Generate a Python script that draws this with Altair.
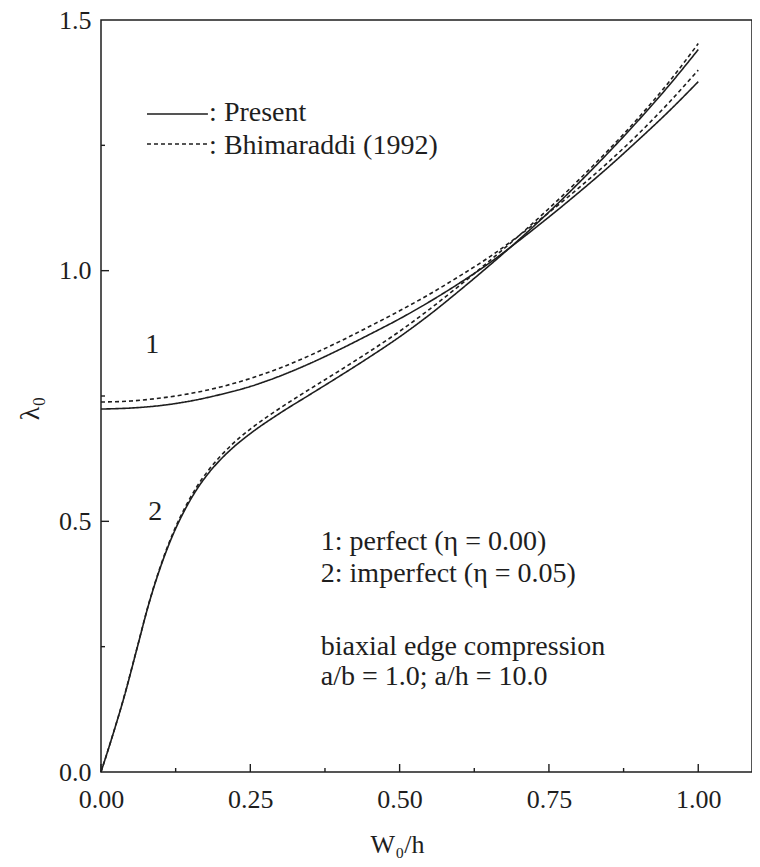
import altair as alt
import pandas as pd

# ---- data ----
w1 = [0.0, 0.05, 0.10, 0.15, 0.20, 0.25, 0.30, 0.35, 0.40, 0.45, 0.50,
      0.55, 0.60, 0.65, 0.70, 0.75, 0.80, 0.85, 0.90, 0.95, 1.00]
lam1_present = [0.724, 0.726, 0.731, 0.740, 0.753, 0.769, 0.790, 0.815, 0.843, 0.873, 0.904,
                0.938, 0.975, 1.015, 1.060, 1.107, 1.156, 1.207, 1.261, 1.317, 1.377]
lam1_bhim = [0.738, 0.740, 0.746, 0.755, 0.768, 0.785, 0.806, 0.831, 0.859, 0.889, 0.920,
             0.953, 0.989, 1.027, 1.070, 1.116, 1.165, 1.217, 1.273, 1.334, 1.400]

w2 = [0.0, 0.02, 0.04, 0.06, 0.08, 0.10, 0.12, 0.14, 0.16, 0.18, 0.20, 0.22,
      0.25, 0.30, 0.35, 0.40, 0.45, 0.50, 0.55, 0.60, 0.65, 0.70, 0.75,
      0.80, 0.85, 0.90, 0.95, 1.00]
lam2_present = [0.0, 0.075, 0.155, 0.245, 0.335, 0.410, 0.472, 0.522, 0.563, 0.596, 0.623, 0.646,
                0.675, 0.716, 0.753, 0.790, 0.828, 0.868, 0.912, 0.960, 1.010, 1.062, 1.117,
                1.175, 1.236, 1.300, 1.368, 1.441]
lam2_bhim = [0.0, 0.075, 0.156, 0.246, 0.336, 0.412, 0.475, 0.526, 0.568, 0.602, 0.630, 0.654,
             0.684, 0.726, 0.764, 0.801, 0.839, 0.879, 0.923, 0.970, 1.019, 1.070, 1.124,
             1.181, 1.241, 1.305, 1.375, 1.453]

sources = ["Present", "Bhimaraddi (1992)"]

x_major = [0.0, 0.25, 0.50, 0.75, 1.00]
x_minor = [0.125, 0.375, 0.625, 0.875]
y_labels = [0.0, 0.5, 1.0, 1.5]
y_major = [0.5, 1.0]
y_minor = [0.25, 0.75, 1.25]

ann_text = [": Present", ": Bhimaraddi (1992)", "1", "2",
            "1: perfect (η = 0.00)", "2: imperfect (η = 0.05)",
            "biaxial edge compression", "a/b = 1.0; a/h = 10.0"]
ann_x = [0.181, 0.181, 0.074, 0.079, 0.368, 0.368, 0.368, 0.368]
ann_y = [1.2985, 1.2327, 0.836, 0.503, 0.443, 0.379, 0.2334, 0.1735]

leg_x = [0.077, 0.077]
leg_x2 = [0.179, 0.179]
leg_y = [1.3125, 1.2527]

# ---- build tables ----
rows = []
for w, l in zip(w1, lam1_present):
    rows.append({"W": w, "lam": l, "curve": "1", "source": sources[0]})
for w, l in zip(w1, lam1_bhim):
    rows.append({"W": w, "lam": l, "curve": "1", "source": sources[1]})
for w, l in zip(w2, lam2_present):
    rows.append({"W": w, "lam": l, "curve": "2", "source": sources[0]})
for w, l in zip(w2, lam2_bhim):
    rows.append({"W": w, "lam": l, "curve": "2", "source": sources[1]})
df = pd.DataFrame(rows)
df["series"] = df["curve"] + "-" + df["source"]

ann_df = pd.DataFrame({"text": ann_text, "x": ann_x, "y": ann_y})
leg_df = pd.DataFrame({"x": leg_x, "x2": leg_x2, "y": leg_y, "source": sources})

FONT = "'Liberation Serif', 'Times New Roman', 'DejaVu Serif', serif"
INK = "#1e1e1e"
W_PX = 651
H = 752

xs = alt.Scale(domain=[0, 1.09], nice=False, zero=False)
ys = alt.Scale(domain=[0, 1.5], nice=False, zero=False)
dash = alt.Scale(domain=sources, range=[[1, 0], [4, 3]])

x_axis = alt.Axis(values=x_major, format=".2f", ticks=False, tickSize=0, domain=False,
                  grid=False, labelPadding=14, labelFont=FONT, labelFontSize=26,
                  labelColor=INK, labelFlush=False, labelOverlap=False,
                  title="W₀/h", titleFont=FONT, titleFontSize=26, titleFontWeight="normal",
                  titleColor=INK, titleX=296, titleY=80, titleAlign="center",
                  titleBaseline="alphabetic")
y_axis = alt.Axis(values=y_labels, format=".1f", ticks=False, tickSize=0, domain=False,
                  grid=False, labelPadding=10, labelFont=FONT, labelFontSize=26,
                  labelColor=INK, labelFlush=False, labelOverlap=False,
                  title="λ₀", titleFont=FONT, titleFontSize=28, titleFontWeight="normal",
                  titleColor=INK, titleX=-63, titleY=388, titleAlign="center",
                  titleBaseline="alphabetic", titleAngle=270)

X = lambda f: alt.X(f, scale=xs, axis=x_axis)
Y = lambda f: alt.Y(f, scale=ys, axis=y_axis)

lines = alt.Chart(df).mark_line(interpolate="monotone", strokeWidth=1.6, color=INK).encode(
    x=X("W:Q"),
    y=Y("lam:Q"),
    strokeDash=alt.StrokeDash("source:N", scale=dash, legend=None),
    detail="series:N",
)

xt_major = alt.Chart(pd.DataFrame({"v": x_major})).mark_rule(color=INK, strokeWidth=1.4).encode(
    x=X("v:Q"), y=alt.value(H), y2=alt.value(H - 8))
xt_minor = alt.Chart(pd.DataFrame({"v": x_minor})).mark_rule(color=INK, strokeWidth=1.4).encode(
    x=X("v:Q"), y=alt.value(H), y2=alt.value(H - 4))
yt_major = alt.Chart(pd.DataFrame({"v": y_major})).mark_rule(color=INK, strokeWidth=1.4).encode(
    y=Y("v:Q"), x=alt.value(0), x2=alt.value(8))
yt_minor = alt.Chart(pd.DataFrame({"v": y_minor})).mark_rule(color=INK, strokeWidth=1.4).encode(
    y=Y("v:Q"), x=alt.value(0), x2=alt.value(4))

legend_lines = alt.Chart(leg_df).mark_rule(strokeWidth=1.6, color=INK).encode(
    x=X("x:Q"), x2="x2:Q",
    y=Y("y:Q"),
    strokeDash=alt.StrokeDash("source:N", scale=dash, legend=None),
)

texts = alt.Chart(ann_df).mark_text(align="left", baseline="alphabetic", font=FONT,
                                    fontSize=28, color=INK).encode(
    x=X("x:Q"),
    y=Y("y:Q"),
    text="text:N",
)

chart = alt.layer(lines, xt_major, xt_minor, yt_major, yt_minor, legend_lines, texts).properties(
    width=W_PX, height=H,
    autosize=alt.AutoSizeParams(type="none"),
    padding={"left": 93, "top": 12, "right": 0, "bottom": 86},
    background="white",
).configure_view(stroke=INK, strokeWidth=1.5)

chart.save("out.html", embed_options={"renderer": "svg", "actions": False})
